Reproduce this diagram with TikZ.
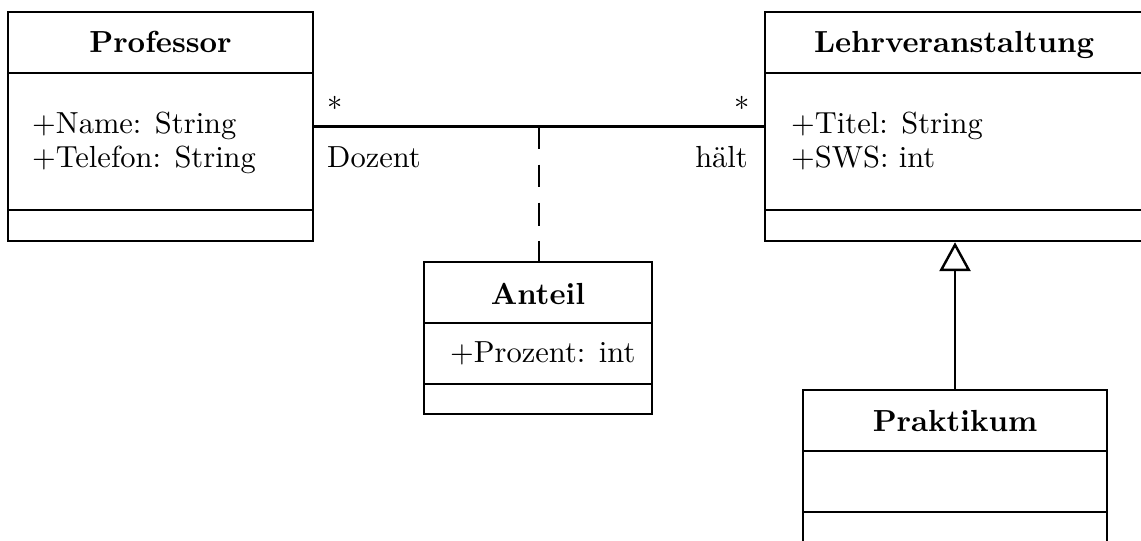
\documentclass[tikz,border=0pt]{standalone}
\usepackage{fontspec}
\usetikzlibrary{arrows.meta,fit,calc}
\begin{document}
\begin{tikzpicture}[x=0.328pt,y=-0.328pt,line width=0.8pt,
  classbox/.style={draw, rectangle, inner sep=0pt},
  ctitle/.style={font=\bfseries, anchor=base, inner sep=0pt},
  attr/.style={anchor=base west, inner sep=0pt},
  lbl/.style={inner sep=0pt},
  assocclass/.style={dash pattern=on 7.5pt off 5pt},
  inherit/.style={-{Triangle[open,width=10.2pt,length=9.5pt]}}]
\useasboundingbox (0,0) rectangle (1141,540);
\clip (0,0) rectangle (1141,540);
% class boxes
\coordinate (p1) at (8,12);   \coordinate (p2) at (313,241);
\coordinate (l1) at (765,12); \coordinate (l2) at (1143,241);
\coordinate (a1) at (424,262);\coordinate (a2) at (652,414);
\coordinate (k1) at (803,390);\coordinate (k2) at (1107,543);
\node[classbox, fit=(p1)(p2)] (prof) {};
\node[classbox, fit=(l1)(l2)] (lv) {};
\node[classbox, fit=(a1)(a2)] (anteil) {};
\node[classbox, fit=(k1)(k2)] (prak) {};
% compartments
\draw (8,73) -- (313,73);  \draw (8,210) -- (313,210);
\draw (765,73) -- (1143,73); \draw (765,210) -- (1143,210);
\draw (424,323) -- (652,323); \draw (424,384) -- (652,384);
\draw (803,451) -- (1107,451); \draw (803,512) -- (1107,512);
% titles
\node[ctitle] (tprof) at (160.5,53) {Professor};
\node[ctitle] (tlv) at (954,53) {Lehrveranstaltung};
\node[ctitle] (tant) at (538,304) {Anteil};
\node[ctitle] (tprak) at (955,431) {Praktikum};
% attributes
\node[attr] (pa1) at (31,133) {+Name: String};
\node[attr] (pa2) at (31,167) {+Telefon: String};
\node[attr] (la1) at (790,133) {+Titel: String};
\node[attr] (la2) at (790,167) {+SWS: int};
\node[attr] (aa1) at (449,362) {+Prozent: int};
% association
\draw (prof.east) -- (lv.west);
\coordinate (mid) at ($(prof.east)!0.5!(lv.west)$);
\draw[assocclass] (mid) -- (mid |- anteil.north);
\node[lbl] (m1) at (335,103) {$*$};
\node[lbl] (m2) at (742,103) {$*$};
\node[attr] (dz) at (326,167) {Dozent};
\node[anchor=base east, inner sep=0pt] (ht) at (749,167) {hält};
% generalization
\draw[inherit] (prak.north) -- (prak.north |- lv.south);
\end{tikzpicture}
\end{document}
